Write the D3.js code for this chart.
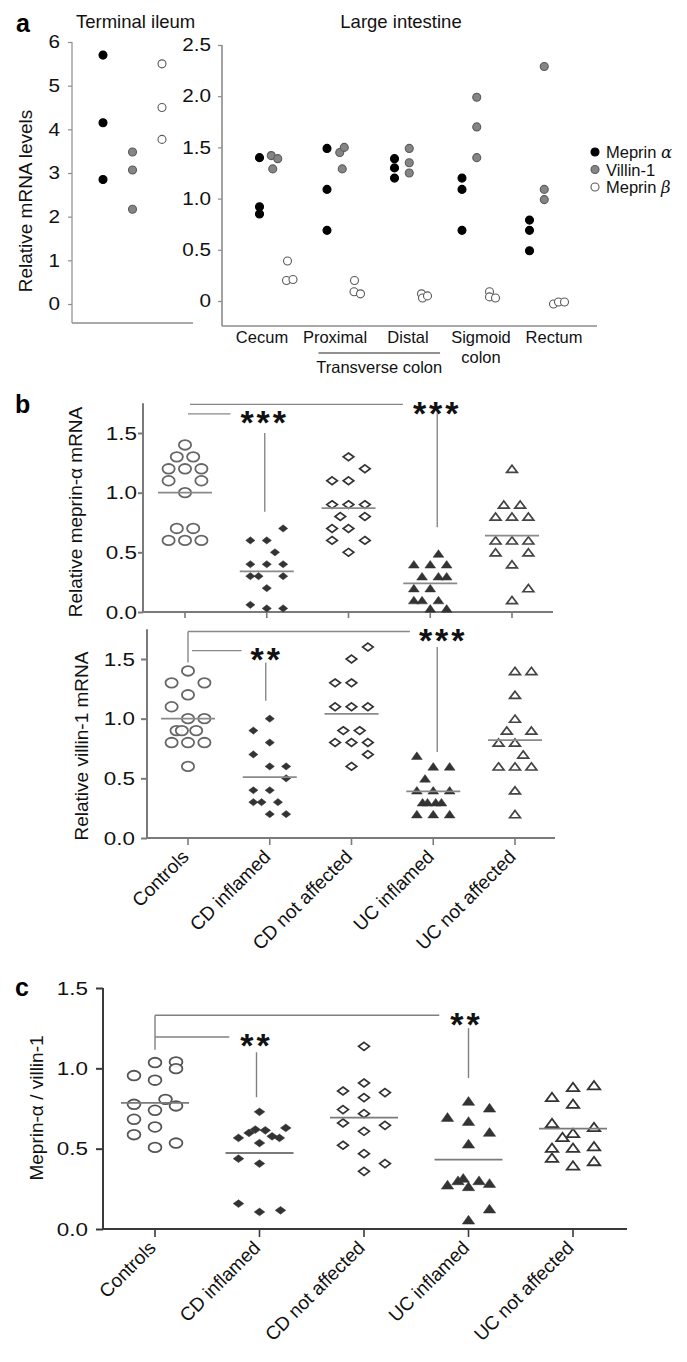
<!DOCTYPE html>
<html><head><meta charset="utf-8">
<script src="https://cdn.jsdelivr.net/npm/d3@7"></script>
<style>body{margin:0;background:#fff}svg{display:block}</style>
</head><body>
<svg id="fig" width="687" height="1362"></svg>
<script>
// ================= DATA =================
// Panel a
const tiSeries = ["Meprin α", "Villin-1", "Meprin β"];
const tiMeprinA = [5.7, 4.15, 2.85];
const tiVillin = [3.48, 3.07, 2.17];
const tiMeprinB = [5.5, 4.5, 3.77];
const tiTicks = [0, 1, 2, 3, 4, 5, 6];
const liSites = ["Cecum", "Proximal", "Distal", "Sigmoid colon", "Rectum"];
const liMeprinA = [[1.40, 0.92, 0.85], [1.49, 1.09, 0.69], [1.39, 1.30, 1.20], [1.20, 1.09, 0.69], [0.79, 0.69, 0.49]];
const liVillin = [[1.42, 1.39, 1.29], [1.45, 1.50, 1.29], [1.49, 1.35, 1.25], [1.99, 1.70, 1.40], [2.29, 1.09, 0.99]];
const liMeprinB = [[0.39, 0.20, 0.21], [0.20, 0.09, 0.07], [0.07, 0.03, 0.05], [0.09, 0.04, 0.03], [-0.03, -0.01, -0.01]];
const liVillinJit = [[-0.6, 0.7, -0.3], [-0.4, 0.5, 0.1], [0, 0, 0], [0, 0, 0], [0, 0, 0]];
const liMeprinBJit = [[-0.3, -0.5, 0.8], [-0.4, -0.5, 0.8], [-0.5, -0.3, 0.7], [-0.4, -0.4, 0.8], [-1.1, -0.1, 1.1]];
const liTicks = [0, 0.5, 1.0, 1.5, 2.0, 2.5];

// Panels b and c
const groups = ["Controls", "CD inflamed", "CD not affected", "UC inflamed", "UC not affected"];
const bTicks = [0, 0.5, 1.0, 1.5];

const meprinVals = [
  [1.4, 1.3, 1.3, 1.2, 1.2, 1.2, 1.1, 1.1, 1.0, 0.7, 0.7, 0.6, 0.6, 0.6],
  [0.7, 0.6, 0.6, 0.5, 0.4, 0.4, 0.4, 0.3, 0.3, 0.3, 0.2, 0.06, 0.03, 0.03],
  [1.3, 1.2, 1.1, 1.1, 0.9, 0.9, 0.9, 0.8, 0.8, 0.7, 0.7, 0.6, 0.6, 0.5],
  [0.49, 0.4, 0.4, 0.4, 0.3, 0.3, 0.3, 0.2, 0.2, 0.1, 0.1, 0.1, 0.03, 0.03],
  [1.2, 0.9, 0.9, 0.8, 0.8, 0.8, 0.6, 0.6, 0.6, 0.5, 0.5, 0.4, 0.2, 0.1]];
const meprinSlots = [
  [0, -1, 1, -2, 0, 2, -2, 2, 0, -1, 1, -2, 0, 2],
  [2, -2, 0, 1, -2, 0, 2, -2, -1, 2, 0, -2, 0, 2],
  [0, 2, -2, 0, -2, 0, 2, -1, 2, -2, 0, -2, 2, 0],
  [1, -2, 0, 2, -1, 1, 2, -2, 0, -2, -1, 1, 0, 2],
  [0, -1, 1, -2, 0, 2, -2, 0, 2, -2, 2, 0, 2, 0]];
const meprinMeans = [1.00, 0.34, 0.87, 0.24, 0.64];

const villinVals = [
  [1.4, 1.3, 1.3, 1.2, 1.1, 1.0, 1.0, 0.9, 0.9, 0.9, 0.8, 0.8, 0.8, 0.6],
  [1.0, 0.9, 0.8, 0.7, 0.6, 0.6, 0.5, 0.4, 0.4, 0.3, 0.3, 0.3, 0.2, 0.2],
  [1.6, 1.5, 1.3, 1.3, 1.1, 1.1, 1.1, 0.9, 0.9, 0.8, 0.8, 0.8, 0.7, 0.6],
  [0.69, 0.6, 0.6, 0.5, 0.4, 0.4, 0.4, 0.3, 0.3, 0.3, 0.3, 0.2, 0.2, 0.2],
  [1.4, 1.4, 1.2, 1.0, 0.9, 0.9, 0.8, 0.8, 0.7, 0.6, 0.6, 0.6, 0.4, 0.2]];
const villinSlots = [
  [0, -2, 2, 0, -2, 0, 2, -1.4, -0.75, 1, -2, 0, 2, 0],
  [0, -2, 0, -2, 0, 2, 2, -2, 0, -2, -1, 1, 0, 2],
  [2, 0, -2, 0, -2, 0, 2, -1, 1, -2, 0, 2, 2, 0],
  [-2, 0, 2, -1, -2, 0, 2, -1.3, -0.7, 0.3, 1, -2, 0, 2],
  [0, 2, 0, 0, -1, 2, -2, 0, 1, -2, 0, 2, 0, 0]];
const villinMeans = [1.00, 0.51, 1.04, 0.39, 0.82];

const ratioVals = [
  [1.036, 1.04, 0.998, 0.955, 0.926, 0.807, 0.776, 0.766, 0.739, 0.683, 0.635, 0.587, 0.508, 0.535],
  [0.729, 0.567, 0.598, 0.619, 0.614, 0.577, 0.567, 0.629, 0.535, 0.438, 0.407, 0.158, 0.106, 0.116],
  [1.137, 0.909, 0.859, 0.849, 0.818, 0.743, 0.718, 0.66, 0.645, 0.608, 0.521, 0.469, 0.407, 0.359],
  [0.797, 0.755, 0.697, 0.672, 0.604, 0.531, 0.276, 0.303, 0.318, 0.266, 0.303, 0.286, 0.127, 0.058],
  [0.884, 0.895, 0.822, 0.78, 0.66, 0.635, 0.598, 0.573, 0.506, 0.506, 0.515, 0.444, 0.396, 0.423]];
const ratioSlots = [
  [0, 2, 2, -2, 0, 1, -2, 2, 0, -2, 0, -2, 0, 2],
  [0, -2, -1, -0.4, 0.55, 1.2, 1.9, 2.5, 0, -2, 0, -2, 0, 2],
  [0, 0, -2, 2, 0, -2, 0, -2, 2, 0, -2, 0, 2, 0],
  [0, 2, -2, 0, 2, 0, -2, -1, -0.5, 0, 1, 2, 2, 0],
  [0, 2, -2, 0, -2, 2, 0, -1, -2, 0, 2, -2, 0, 2]];
const ratioMeans = [0.785, 0.473, 0.693, 0.432, 0.625];

const sigTargets = ["CD inflamed", "UC inflamed"];
const sigMeprin = ["***", "***"];
const sigVillin = ["**", "***"];
const sigRatio = ["**", "**"];

// ================= DRAWING =================
const FONT = '"Liberation Sans", Arial, Helvetica, sans-serif';
const svg = d3.select("#fig").style("font-family", FONT);
const TXT = "#111";

function styleTicks(ax, gap, fs, sx, lineColor, lw) {
  ax.attr("font-family", null).attr("font-size", null);
  ax.select(".domain").remove();
  ax.selectAll(".tick line").attr("stroke", lineColor).attr("stroke-width", lw);
  ax.selectAll(".tick text").attr("fill", TXT).attr("font-family", FONT).attr("font-size", fs)
    .attr("transform", `scale(${sx},1)`).attr("x", -gap / sx);
}

// ---------- Panel a ----------
const gA = svg.append("g");
gA.append("text").attr("x", 16).attr("y", 32).attr("font-size", 25).attr("font-weight", "bold").text("a");
gA.append("text").attr("x", 76).attr("y", 28).attr("font-size", 18.5).attr("fill", TXT).text("Terminal ileum");
gA.append("text").attr("x", 401).attr("y", 28).attr("font-size", 18.5).attr("fill", TXT).attr("text-anchor", "middle").text("Large intestine");

const yTI = d3.scaleLinear().domain([0, 6]).range([304, 42]);
const xTI = d3.scalePoint().domain(tiSeries).range([103, 162]);
const yLI = d3.scaleLinear().domain([0, 2.5]).range([301, 45]);
const xLI = d3.scalePoint().domain(liSites).range([274, 544]);
const xLILab = d3.scalePoint().domain(liSites).range([262, 554]);
const serOff = d3.scalePoint().domain(tiSeries).range([-14.5, 15]);
const jit = d3.scaleLinear().domain([-1, 1]).range([-5, 5]);
const AXA = "#8c8c8c";
const serFill = d3.scaleOrdinal().domain(tiSeries).range(["#000", "#858585", "#fff"]);
const serStroke = d3.scaleOrdinal().domain(tiSeries).range(["#000", "#5a5a5a", "#5a5a5a"]);

// left axes
const axTI = gA.append("g").attr("transform", "translate(72,0)")
  .call(d3.axisLeft(yTI).tickValues(tiTicks).tickSize(4).tickFormat(d3.format("d")));
styleTicks(axTI, 12, 18, 1.15, AXA, 1.2);
gA.append("line").attr("x1", 72).attr("x2", 72).attr("y1", yTI(6)).attr("y2", 323).attr("stroke", AXA).attr("stroke-width", 1.2);
gA.append("line").attr("x1", 72).attr("x2", 193).attr("y1", 323).attr("y2", 323).attr("stroke", AXA).attr("stroke-width", 1.6);
gA.append("text").attr("transform", `translate(32,201) rotate(-90)`).attr("text-anchor", "middle")
  .attr("font-size", 19).attr("fill", TXT).text("Relative mRNA levels");

// right axes
const axLI = gA.append("g").attr("transform", "translate(222,0)")
  .call(d3.axisLeft(yLI).tickValues(liTicks).tickSize(4).tickFormat(d => d === 0 ? "0" : d3.format(".1f")(d)));
styleTicks(axLI, 11, 18, 1.15, AXA, 1.2);
gA.append("line").attr("x1", 222).attr("x2", 222).attr("y1", yLI(2.5)).attr("y2", 326).attr("stroke", AXA).attr("stroke-width", 1.6);
gA.append("line").attr("x1", 222).attr("x2", 597).attr("y1", 326).attr("y2", 326).attr("stroke", AXA).attr("stroke-width", 1.6);

// terminal ileum dots
const tiData = [];
[[tiSeries[0], tiMeprinA], [tiSeries[1], tiVillin], [tiSeries[2], tiMeprinB]].forEach(([s, vals]) =>
  vals.forEach(v => tiData.push({ s, v })));
gA.append("g").selectAll("circle").data(tiData).join("circle")
  .attr("cx", d => xTI(d.s)).attr("cy", d => yTI(d.v)).attr("r", 4)
  .attr("fill", d => serFill(d.s)).attr("stroke", d => serStroke(d.s)).attr("stroke-width", 1.1);

// large intestine dots
const liData = [];
liSites.forEach((site, i) => {
  [[tiSeries[0], liMeprinA[i], null], [tiSeries[1], liVillin[i], liVillinJit[i]], [tiSeries[2], liMeprinB[i], liMeprinBJit[i]]]
    .forEach(([s, vals, js]) => vals.forEach((v, k) => liData.push({ site, s, v, j: js ? js[k] : 0 })));
});
gA.append("g").selectAll("circle").data(liData).join("circle")
  .attr("cx", d => xLI(d.site) + serOff(d.s) + jit(d.j)).attr("cy", d => yLI(d.v)).attr("r", 4)
  .attr("fill", d => serFill(d.s)).attr("stroke", d => serStroke(d.s)).attr("stroke-width", 1.1);

// site labels
const siteLab = gA.append("g").selectAll("text").data(liSites).join("text")
  .attr("x", d => xLILab(d)).attr("y", 343).attr("text-anchor", "middle").attr("font-size", 16.5).attr("fill", TXT);
siteLab.each(function (d) {
  const words = d.split(" ");
  d3.select(this).selectAll("tspan").data(words).join("tspan")
    .attr("x", xLILab(d)).attr("dy", (w, i) => i === 0 ? 0 : 20).text(w => w);
});
gA.append("line").attr("x1", xLI("Proximal") - 23).attr("x2", xLI("Distal") + 31).attr("y1", 353).attr("y2", 353)
  .attr("stroke", "#222").attr("stroke-width", 1);
gA.append("text").attr("x", (xLI("Proximal") - 23 + xLI("Distal") + 31) / 2).attr("y", 373).attr("text-anchor", "middle")
  .attr("font-size", 16.5).attr("fill", TXT).text("Transverse colon");

// legend
const lg = gA.append("g").selectAll("g").data(tiSeries).join("g")
  .attr("transform", (d, i) => `translate(595,${152 + i * 17.5})`);
lg.append("circle").attr("r", 4).attr("fill", d => serFill(d)).attr("stroke", d => serStroke(d)).attr("stroke-width", 1.1);
lg.append("text").attr("x", 11).attr("y", 6).attr("font-size", 16.5).attr("fill", TXT)
  .each(function (d) {
    const parts = d.split(" ");
    const t = d3.select(this);
    t.append("tspan").text(parts[0] + " ");
    if (parts[1]) t.append("tspan").attr("font-family", "'DejaVu Serif', 'Liberation Serif', serif").attr("font-style", "italic").text(parts[1]);
  });

// ---------- Panels b and c helpers ----------
function shapePath(st) {
  const w = st.w, h = st.h;
  if (st.type === "circle") return `M${-w},0A${w},${h} 0 1,0 ${w},0A${w},${h} 0 1,0 ${-w},0Z`;
  if (st.type === "diamond") return `M0,${-h}L${w},0L0,${h}L${-w},0Z`;
  return `M0,${-h / 2}L${w},${h / 2}L${-w},${h / 2}Z`;
}

function dotGroups(g, xs, ys, vals, slots, means, step, halfW, styles, meanColor) {
  groups.forEach((grp, i) => {
    const st = styles[i];
    const pts = vals[i].map((v, k) => ({ v, s: slots[i][k] }));
    g.append("g").selectAll("path").data(pts).join("path")
      .attr("transform", d => `translate(${xs(grp) + d.s * step},${ys(d.v)})`)
      .attr("d", shapePath(st))
      .attr("fill", st.filled ? st.color : "#fff")
      .attr("fill-opacity", st.filled ? 1 : 0.9)
      .attr("stroke", st.color).attr("stroke-width", st.filled ? 0.5 : st.sw);
  });
  g.append("g").selectAll("line").data(means).join("line")
    .attr("x1", (d, i) => xs(groups[i]) - halfW).attr("x2", (d, i) => xs(groups[i]) + halfW)
    .attr("y1", d => ys(d)).attr("y2", d => ys(d))
    .attr("stroke", meanColor).attr("stroke-width", 1.8);
}

function sig(g, xs, ys, labels, c) {
  const col = c.color;
  const xCtrl = xs("Controls");
  const xT = [xs(sigTargets[0]) + c.dx[0], xs(sigTargets[1]) + c.dx[1]];
  const lvl = [c.shortY, c.longY];
  labels.forEach((lab, i) => {
    const t = g.append("text").attr("x", xT[i] + c.starDx[i]).attr("y", ys(lvl[i]) + c.starFs * 0.6)
      .attr("text-anchor", "middle").attr("font-size", c.starFs).attr("font-weight", "bold")
      .attr("letter-spacing", 3).attr("fill", "#111").text(lab);
    const w = t.node().getComputedTextLength();
    const startX = xT[i] + c.starDx[i] - w / 2 - c.gap;
    g.append("line").attr("x1", xCtrl + c.hx[i]).attr("x2", startX).attr("y1", ys(lvl[i])).attr("y2", ys(lvl[i]))
      .attr("stroke", col).attr("stroke-width", 1.4);
    g.append("line").attr("x1", xT[i]).attr("x2", xT[i]).attr("y1", ys(c.vTop[i])).attr("y2", ys(c.vBot[i]))
      .attr("stroke", col).attr("stroke-width", 1.4);
  });
  if (c.ctrlV) {
    g.append("line").attr("x1", xCtrl + c.ctrlDx).attr("x2", xCtrl + c.ctrlDx).attr("y1", ys(c.ctrlV[0])).attr("y2", ys(c.ctrlV[1]))
      .attr("stroke", col).attr("stroke-width", 1.4);
  }
}

function frame(g, x0, ys, xs, top, right, yBase, tickSize, gap, lineColor) {
  const ax = g.append("g").attr("transform", `translate(${x0},0)`)
    .call(d3.axisLeft(ys).tickValues(bTicks).tickSize(tickSize).tickFormat(d3.format(".1f")));
  styleTicks(ax, gap, 19, 1.18, lineColor, 2);
  g.append("line").attr("x1", x0).attr("x2", x0).attr("y1", top).attr("y2", yBase).attr("stroke", lineColor).attr("stroke-width", 2);
  g.append("line").attr("x1", x0).attr("x2", right).attr("y1", yBase).attr("y2", yBase).attr("stroke", lineColor).attr("stroke-width", 2);
  g.append("g").selectAll("line").data(groups).join("line")
    .attr("x1", d => xs(d)).attr("x2", d => xs(d)).attr("y1", yBase).attr("y2", yBase + tickSize + 1)
    .attr("stroke", lineColor).attr("stroke-width", 1.6);
}

function catLabels(g, xs, yBase) {
  g.append("g").selectAll("text").data(groups).join("text")
    .attr("transform", d => `translate(${xs(d) + 2},${yBase + 20}) rotate(-45)`)
    .attr("text-anchor", "end").attr("font-size", 19).attr("fill", TXT).text(d => d);
}

// ---------- Panel b ----------
const gB = svg.append("g");
gB.append("text").attr("x", 15).attr("y", 413).attr("font-size", 25).attr("font-weight", "bold").text("b");
const AXB = "#7a7a7a";
const yB1 = d3.scaleLinear().domain([0, 1.5]).range([612, 433]);
const xB1 = d3.scalePoint().domain(groups).range([185, 512]);
const yB2 = d3.scaleLinear().domain([0, 1.5]).range([838, 659]);
const xB2 = d3.scalePoint().domain(groups).range([188, 515]);

const bStyles = [
  { type: "circle", filled: false, w: 6.1, h: 4.8, color: "#666", sw: 1.8 },
  { type: "diamond", filled: true, w: 4.6, h: 3.6, color: "#333" },
  { type: "diamond", filled: false, w: 5.3, h: 3.9, color: "#333", sw: 1.7 },
  { type: "triangle", filled: true, w: 5.4, h: 7.6, color: "#333" },
  { type: "triangle", filled: false, w: 5.4, h: 7.2, color: "#444", sw: 1.7 }];

frame(gB, 143, yB1, xB1, yB1(1.75), 553, 612, 5, 6, AXB);
dotGroups(gB, xB1, yB1, meprinVals, meprinSlots, meprinMeans, 8.2, 27, bStyles, "#8a8a8a");
sig(gB, xB1, yB1, sigMeprin, {
  color: "#888", dx: [-2, 7], starDx: [0, 0], shortY: 1.66, longY: 1.74, hx: [3, 5], gap: 10, starFs: 34,
  vTop: [1.50, 1.67], vBot: [0.84, 0.71]
});
gB.append("text").attr("transform", "translate(82,512) rotate(-90)").attr("text-anchor", "middle")
  .attr("font-size", 19).attr("fill", TXT).text("Relative meprin-α mRNA");

frame(gB, 147, yB2, xB2, yB2(1.75), 555, 838, 6, 12, AXB);
dotGroups(gB, xB2, yB2, villinVals, villinSlots, villinMeans, 8.2, 27, bStyles, "#8a8a8a");
sig(gB, xB2, yB2, sigVillin, {
  color: "#888", dx: [-4, 4], starDx: [1, 6], shortY: 1.57, longY: 1.73, hx: [4, 0], gap: 9, starFs: 34,
  vTop: [1.47, 1.60], vBot: [1.15, 0.72], ctrlV: [1.73, 1.47], ctrlDx: 0
});
gB.append("text").attr("transform", "translate(88,746) rotate(-90)").attr("text-anchor", "middle")
  .attr("font-size", 19).attr("fill", TXT).text("Relative villin-1 mRNA");
catLabels(gB, xB2, 838);

// ---------- Panel c ----------
const gC = svg.append("g");
gC.append("text").attr("x", 15).attr("y", 996).attr("font-size", 25).attr("font-weight", "bold").text("c");
const AXC = "#3a3a3a";
const yC = d3.scaleLinear().domain([0, 1.5]).range([1229, 988]);
const xC = d3.scalePoint().domain(groups).range([155, 573]);
const cStyles = [
  { type: "circle", filled: false, w: 6.4, h: 4.8, color: "#555", sw: 1.8 },
  { type: "diamond", filled: true, w: 5.3, h: 3.9, color: "#333" },
  { type: "diamond", filled: false, w: 5.4, h: 4.0, color: "#333", sw: 1.7 },
  { type: "triangle", filled: true, w: 6.2, h: 8.8, color: "#333" },
  { type: "triangle", filled: false, w: 6.2, h: 8.4, color: "#333", sw: 1.8 }];
frame(gC, 103, yC, xC, yC(1.5), 627, 1229, 7, 15, AXC);
dotGroups(gC, xC, yC, ratioVals, ratioSlots, ratioMeans, 10.5, 34, cStyles, "#7a7a7a");
sig(gC, xC, yC, sigRatio, {
  color: "#808080", dx: [-3, 0], starDx: [0, -2], shortY: 1.195, longY: 1.33, hx: [0, 0], gap: 11, starFs: 34,
  vTop: [1.10, 1.25], vBot: [0.82, 0.94], ctrlV: [1.33, 1.115], ctrlDx: 0
});
gC.append("text").attr("transform", "translate(43,1108) rotate(-90)").attr("text-anchor", "middle")
  .attr("font-size", 19).attr("fill", TXT).text("Meprin-α / villin-1");
catLabels(gC, xC, 1229);
</script>
</body></html>
